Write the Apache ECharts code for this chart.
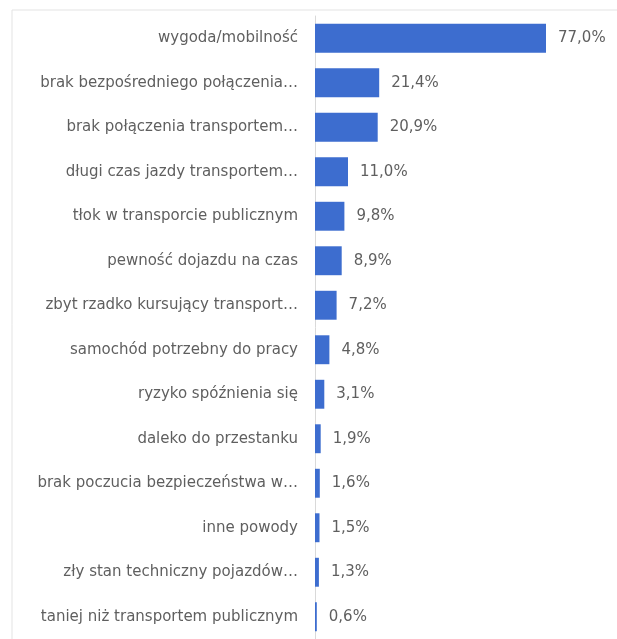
<!DOCTYPE html>
<html><head><meta charset="utf-8">
<script src="https://cdn.jsdelivr.net/npm/echarts@6/dist/echarts.min.js"></script>
<style>html,body{margin:0;padding:0;background:#fff}#c{width:617px;height:639px}</style>
</head><body><div id="c"></div>
<script>
var categories = [
  "wygoda/mobilność",
  "brak bezpośredniego połączenia…",
  "brak połączenia transportem…",
  "długi czas jazdy transportem…",
  "tłok w transporcie publicznym",
  "pewność dojazdu na czas",
  "zbyt rzadko kursujący transport…",
  "samochód potrzebny do pracy",
  "ryzyko spóźnienia się",
  "daleko do przestanku",
  "brak poczucia bezpieczeństwa w…",
  "inne powody",
  "zły stan techniczny pojazdów…",
  "taniej niż transportem publicznym"
];
var values = [77.0, 21.4, 20.9, 11.0, 9.8, 8.9, 7.2, 4.8, 3.1, 1.9, 1.6, 1.5, 1.3, 0.6];

var chart = echarts.init(document.getElementById('c'));
chart.setOption({
  animation: false,
  backgroundColor: '#fff',
  graphic: [
    {type: 'line', shape: {x1: 12, y1: 10, x2: 617, y2: 10}, style: {stroke: '#e3e3e3', lineWidth: 1}},
    {type: 'line', shape: {x1: 12, y1: 10, x2: 12, y2: 639}, style: {stroke: '#e3e3e3', lineWidth: 1}}
  ],
  grid: {left: 315, right: 2, top: 16, bottom: 0, containLabel: false},
  xAxis: {
    type: 'value', min: 0, max: 100, show: false
  },
  yAxis: {
    type: 'category', data: categories, inverse: true,
    axisLine: {show: true, lineStyle: {color: '#d9d9d9', width: 1}},
    axisTick: {show: false},
    axisLabel: {color: '#5f5f5f', fontSize: 15, fontFamily: 'DejaVu Sans', margin: 17}
  },
  series: [{
    type: 'bar', data: values, barWidth: '65%',
    itemStyle: {color: '#3d6dcf'},
    label: {
      show: true, position: 'right', distance: 12,
      color: '#5f5f5f', fontSize: 15, fontFamily: 'DejaVu Sans',
      formatter: function (p) { return p.value.toFixed(1).replace('.', ',') + '%'; }
    }
  }]
});
</script></body></html>
